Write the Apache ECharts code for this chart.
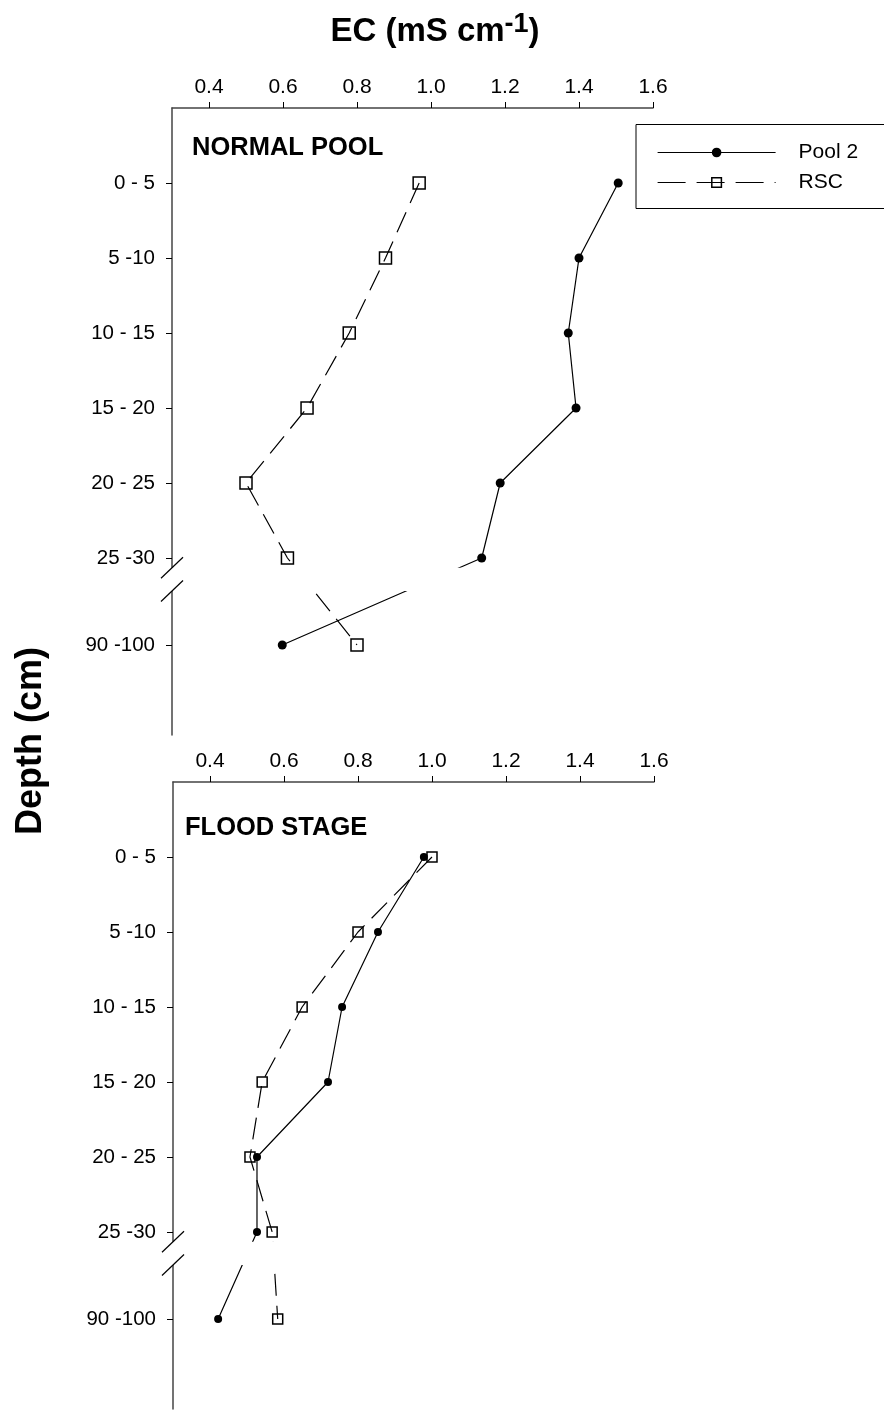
<!DOCTYPE html>
<html>
<head>
<meta charset="utf-8">
<title>EC depth profile</title>
<script src="https://cdn.jsdelivr.net/npm/echarts@6/dist/echarts.min.js"></script>
<style>
	html, body { margin: 0; padding: 0; background: #fff; }
	#main { width: 884px; height: 1410px; }
</style>
</head>
<body>
<div id="main"></div>
<script>
// depth classes, top to bottom
var depthLabels = ['0 - 5', '5 -10', '10 - 15', '15 - 20', '20 - 25', '25 -30', '90 -100'];
// slot on the depth axis (last one sits a bit further, after the axis break)
var depthSlot = [1, 2, 3, 4, 5, 6, 7.16];

var xTicks = [0.4, 0.6, 0.8, 1.0, 1.2, 1.4, 1.6];
var seriesNames = ['Pool 2', 'RSC'];

// EC (mS cm-1), normal pool
var normalPool2 = [1.506, 1.400, 1.371, 1.392, 1.187, 1.137, 0.598];
var normalRsc = [0.968, 0.877, 0.779, 0.665, 0.500, 0.612, 0.800];
// EC (mS cm-1), flood stage
var floodPool2 = [0.978, 0.854, 0.757, 0.719, 0.527, 0.527, 0.422];
var floodRsc = [1.000, 0.800, 0.649, 0.541, 0.508, 0.568, 0.583];

var FONT = '"Liberation Sans", Arial, sans-serif';
var BREAK_FROM = 6.13, BREAK_TO = 6.44;   // blank band of the axis break (slot units)
var DASH = [22, 10];

function toPoints(xs){
	var pts = [];
	for(var i=0;i<xs.length;i++){
		pts.push([xs[i], depthSlot[i]]);
	}
	return pts;
}

function makeXAxis(gridIndex){
	return {
		gridIndex: gridIndex,
		type: 'value',
		position: 'top',
		min: 0.3,
		max: 1.6,
		axisLine: { show: true, onZero: false, lineStyle: { color: '#444', width: 1.5 } },
		axisTick: { show: true, length: 6, customValues: xTicks, lineStyle: { color: '#000' } },
		axisLabel: {
			customValues: xTicks,
			margin: 10,
			fontFamily: FONT, fontSize: 21, color: '#000',
			formatter: function(v){ return v.toFixed(1); }
		},
		splitLine: { show: false }
	};
}

function makeYAxis(gridIndex){
	return {
		gridIndex: gridIndex,
		type: 'value',
		inverse: true,
		min: 0,
		max: 8.36,
		axisLine: { show: true, onZero: false, lineStyle: { color: '#444', width: 1.5 } },
		axisTick: { show: true, length: 6, customValues: depthSlot, lineStyle: { color: '#000' } },
		axisLabel: {
			customValues: depthSlot,
			margin: 17,
			fontFamily: FONT, fontSize: 20.5, color: '#000',
			formatter: function(v){
				var i = depthSlot.indexOf(v);
				return i < 0 ? '' : depthLabels[i];
			}
		},
		splitLine: { show: false }
	};
}

function makeSeries(name, xs, gridIndex, small){
	var isPool = name == 'Pool 2';
	return {
		name: name,
		type: 'line',
		xAxisIndex: gridIndex,
		yAxisIndex: gridIndex,
		data: toPoints(xs),
		symbol: isPool ? 'circle' : 'rect',
		symbolSize: isPool ? (small ? 8 : 9) : (small ? 10 : 12),
		lineStyle: { color: '#000', width: 1.2, type: isPool ? 'solid' : DASH },
		itemStyle: isPool ? { color: '#000' } : { color: 'rgba(255,255,255,0)', borderColor: '#000', borderWidth: 1.5 },
		emphasis: { disabled: true },
		animation: false,
		z: 3
	};
}

var chartsDom = document.getElementById('main');
var myCharts = echarts.init(chartsDom, null, { renderer: 'canvas' });

var option = {
	backgroundColor: '#fff',
	animation: false,
	title: {
		text: '{a|EC (mS cm}{s|-1}{a|)}',
		left: 430,
		top: 6,
		textAlign: 'center',
		textStyle: {
			rich: {
				a: { fontFamily: FONT, fontSize: 33, fontWeight: 'bold', color: '#000', lineHeight: 40 },
				s: { fontFamily: FONT, fontSize: 27, fontWeight: 'bold', color: '#000', padding: [0, 0, 14, 0] }
			}
		}
	},
	legend: {
		orient: 'vertical',
		left: 652,
		top: 137,
		itemWidth: 118,
		itemHeight: 12,
		itemGap: 9,
		selectedMode: false,
		textStyle: { fontFamily: FONT, fontSize: 21, color: '#000', padding: [0, 0, 0, 18] },
		data: [
			{ name: 'Pool 2', itemStyle: { color: '#000' }, lineStyle: { color: '#000', width: 1.2, type: 'solid' } },
			{ name: 'RSC', itemStyle: { color: 'rgba(255,255,255,0)', borderColor: '#000', borderWidth: 1.5 }, lineStyle: { color: '#000', width: 1.2, type: [28, 11] } }
		]
	},
	grid: [
		{ left: 172, top: 108, width: 481, height: 627 },
		{ left: 173, top: 782, width: 481, height: 627 }
	],
	xAxis: [makeXAxis(0), makeXAxis(1)],
	yAxis: [makeYAxis(0), makeYAxis(1)],
	series: [
		makeSeries('Pool 2', normalPool2, 0, false),
		makeSeries('RSC', normalRsc, 0, false),
		makeSeries('Pool 2', floodPool2, 1, true),
		makeSeries('RSC', floodRsc, 1, true)
	]
};
myCharts.setOption(option);

// axis break band + "//" marks, panel titles, legend frame, y title
var graphics = [];
for(var g=0; g<2; g++){
	var p1 = myCharts.convertToPixel({ gridIndex: g }, [0.3, BREAK_FROM]);
	var p2 = myCharts.convertToPixel({ gridIndex: g }, [0.3, BREAK_TO]);
	graphics.push({
		type: 'rect', z: 100, silent: true,
		shape: { x: p1[0] - 4, y: p1[1], width: 884 - p1[0] + 4, height: p2[1] - p1[1] },
		style: { fill: '#fff' }
	});
	var ys = [p1[1], p2[1]];
	for(var k=0;k<2;k++){
		graphics.push({
			type: 'line', z: 101, silent: true,
			shape: { x1: p1[0] - 11, y1: ys[k] + 10.5, x2: p1[0] + 11, y2: ys[k] - 10.5 },
			style: { stroke: '#000', lineWidth: 1.2 }
		});
	}
}
graphics.push({
	type: 'text', left: 192, top: 135, z: 100,
	style: { text: 'NORMAL POOL', font: 'bold 25.5px ' + FONT, fill: '#000' }
});
graphics.push({
	type: 'text', left: 185, top: 815, z: 100,
	style: { text: 'FLOOD STAGE', font: 'bold 25.5px ' + FONT, fill: '#000' }
});
graphics.push({
	type: 'rect', z: 50, silent: true,
	shape: { x: 636, y: 124.5, width: 300, height: 84 },
	style: { fill: 'none', stroke: '#000', lineWidth: 1 }
});
graphics.push({
	type: 'text', x: 31, y: 741, rotation: Math.PI / 2, z: 100,
	style: { text: 'Depth (cm)', font: 'bold 36px ' + FONT, fill: '#000', align: 'center', verticalAlign: 'middle' }
});
myCharts.setOption({ graphic: graphics });
</script>
</body>
</html>
